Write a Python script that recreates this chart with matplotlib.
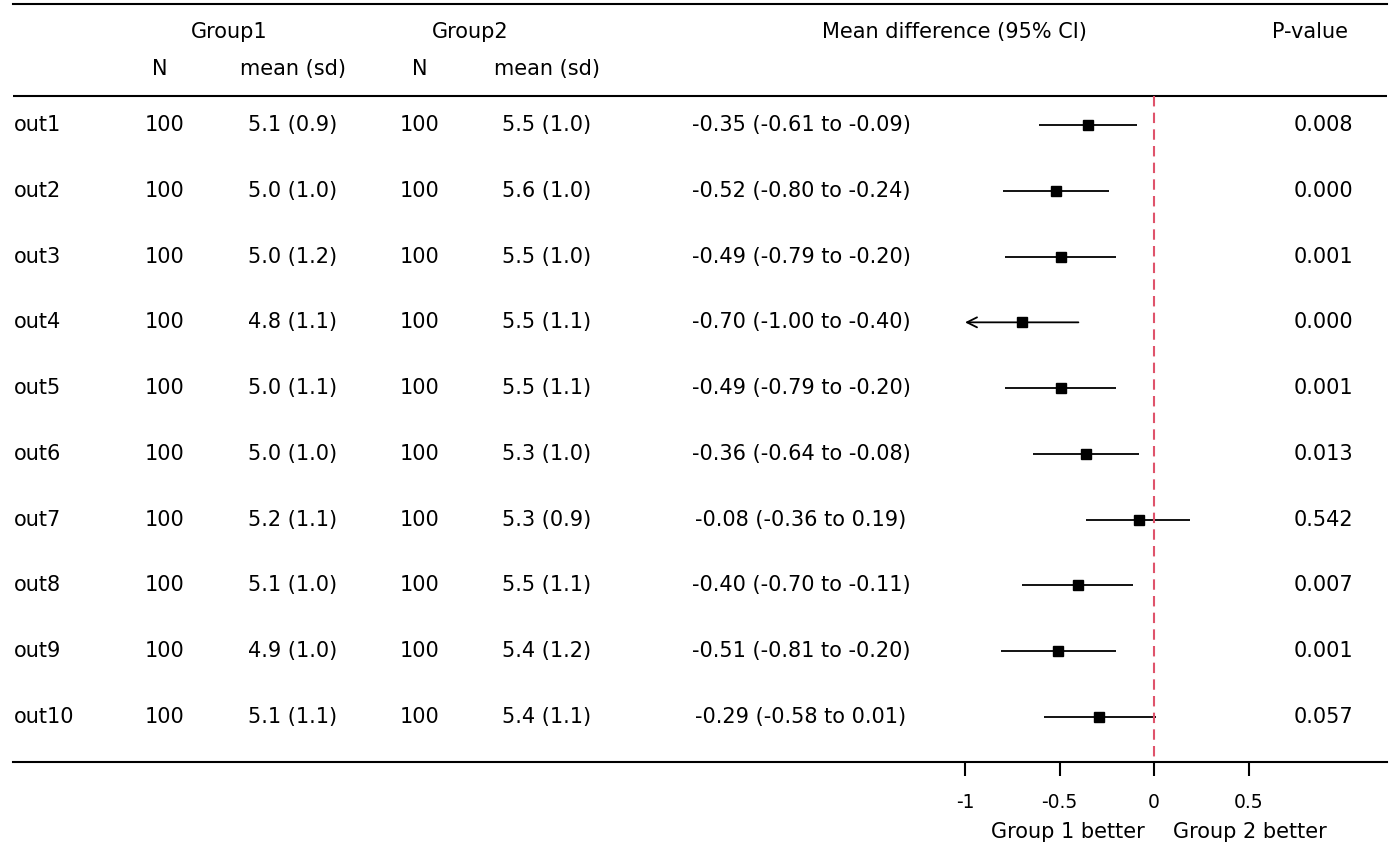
import matplotlib
matplotlib.use("Agg")
import matplotlib.pyplot as plt
import matplotlib.transforms as mtransforms

# ── Data ──────────────────────────────────────────────────────────
outcomes = ["out1", "out2", "out3", "out4", "out5",
            "out6", "out7", "out8", "out9", "out10"]
n1 = [100] * 10
n2 = [100] * 10
mean1 = [5.1, 5.0, 5.0, 4.8, 5.0, 5.0, 5.2, 5.1, 4.9, 5.1]
sd1   = [0.9, 1.0, 1.2, 1.1, 1.1, 1.0, 1.1, 1.0, 1.0, 1.1]
mean2 = [5.5, 5.6, 5.5, 5.5, 5.5, 5.3, 5.3, 5.5, 5.4, 5.4]
sd2   = [1.0, 1.0, 1.0, 1.1, 1.1, 1.0, 0.9, 1.1, 1.2, 1.1]
diff  = [-0.35, -0.52, -0.49, -0.70, -0.49, -0.36, -0.08, -0.40, -0.51, -0.29]
ci_lo = [-0.61, -0.80, -0.79, -1.00, -0.79, -0.64, -0.36, -0.70, -0.81, -0.58]
ci_hi = [-0.09, -0.24, -0.20, -0.40, -0.20, -0.08, 0.19, -0.11, -0.20, 0.01]
pvals = [0.008, 0.000, 0.001, 0.000, 0.001, 0.013, 0.542, 0.007, 0.001, 0.057]
xticks = [-1, -0.5, 0, 0.5]
xticklabels = ["-1", "-0.5", "0", "0.5"]

FS = 15
W, H = 1400, 866
fig = plt.figure(figsize=(W / 100, H / 100), dpi=100)
left, right, top, bottom = 13, 1387, 4, 762
ax = fig.add_axes([left / W, (H - bottom) / H, (right - left) / W, (bottom - top) / H])

# forest x scale: 0 at px 1154, 189 px per unit
px0, ppu = 1154, 189.0
ax.set_xlim((left - px0) / ppu, (right - px0) / ppu)

# rows: row 1 at px 125, spacing ~65.8 px
row0, rstep = 125, 65.78
def py(p):
    return 1 + (p - row0) / rstep
ax.set_ylim(py(bottom), py(top))

for s in ["left", "right"]:
    ax.spines[s].set_visible(False)
ax.spines["top"].set_linewidth(1.5)
ax.spines["bottom"].set_linewidth(1.5)
ax.tick_params(axis="y", left=False, labelleft=False)
ax.tick_params(axis="x", direction="out", length=10, width=1.5, pad=12, labelsize=13.5)
ax.set_xticks(xticks)
ax.set_xticklabels(xticklabels)

# header separator
ax.axhline(py(96), color="black", lw=1.5)

# column positions in pixels -> figure-x blended transform
tr = mtransforms.blended_transform_factory(fig.transFigure, ax.transData)
def fx(p):
    return p / W

rows = range(1, len(outcomes) + 1)
for r, o, a, m, s, b, m2, s2, d, lo, hi, p in zip(rows, outcomes, n1, mean1, sd1, n2,
                                                   mean2, sd2, diff, ci_lo, ci_hi, pvals):
    ax.text(fx(14), r, o, transform=tr, ha="left", va="center", fontsize=FS)
    ax.text(fx(165), r, str(a), transform=tr, ha="center", va="center", fontsize=FS)
    ax.text(fx(293), r, f"{m:.1f} ({s:.1f})", transform=tr, ha="center", va="center", fontsize=FS)
    ax.text(fx(420), r, str(b), transform=tr, ha="center", va="center", fontsize=FS)
    ax.text(fx(547), r, f"{m2:.1f} ({s2:.1f})", transform=tr, ha="center", va="center", fontsize=FS)
    ax.text(fx(801), r, f"{d:.2f} ({lo:.2f} to {hi:.2f})", transform=tr,
            ha="center", va="center", fontsize=FS)
    ax.text(fx(1353), r, f"{p:.3f}", transform=tr, ha="right", va="center", fontsize=FS)

    # CI line, with arrow if it reaches the forest limit
    if lo <= xticks[0]:
        ax.annotate("", xy=(xticks[0], r), xytext=(hi, r),
                    arrowprops=dict(arrowstyle="->", color="black", lw=1.3,
                                    shrinkA=0, shrinkB=0, mutation_scale=18))
    else:
        ax.plot([lo, hi], [r, r], color="black", lw=1.3, solid_capstyle="butt")
    ax.plot(d, r, marker="s", color="black", markersize=7.5, linestyle="none")

# reference line
ax.plot([0, 0], [py(96), py(bottom)], color="#DF536B", lw=1.5, linestyle=(0, (5, 3)))

# headers
ax.text(fx(229), py(32), "Group1", transform=tr, ha="center", va="center", fontsize=FS)
ax.text(fx(470), py(32), "Group2", transform=tr, ha="center", va="center", fontsize=FS)
ax.text(fx(954), py(32), "Mean difference (95% CI)", transform=tr, ha="center", va="center", fontsize=FS)
ax.text(fx(1310), py(32), "P-value", transform=tr, ha="center", va="center", fontsize=FS)
ax.text(fx(160), py(69), "N", transform=tr, ha="center", va="center", fontsize=FS)
ax.text(fx(293), py(69), "mean (sd)", transform=tr, ha="center", va="center", fontsize=FS)
ax.text(fx(420), py(69), "N", transform=tr, ha="center", va="center", fontsize=FS)
ax.text(fx(547), py(69), "mean (sd)", transform=tr, ha="center", va="center", fontsize=FS)

# direction labels under the axis
ax.text(-0.048, py(832), "Group 1 better", ha="right", va="center", fontsize=FS, clip_on=False)
ax.text(0.10, py(832), "Group 2 better", ha="left", va="center", fontsize=FS, clip_on=False)

fig.savefig("out.png", dpi=100)
